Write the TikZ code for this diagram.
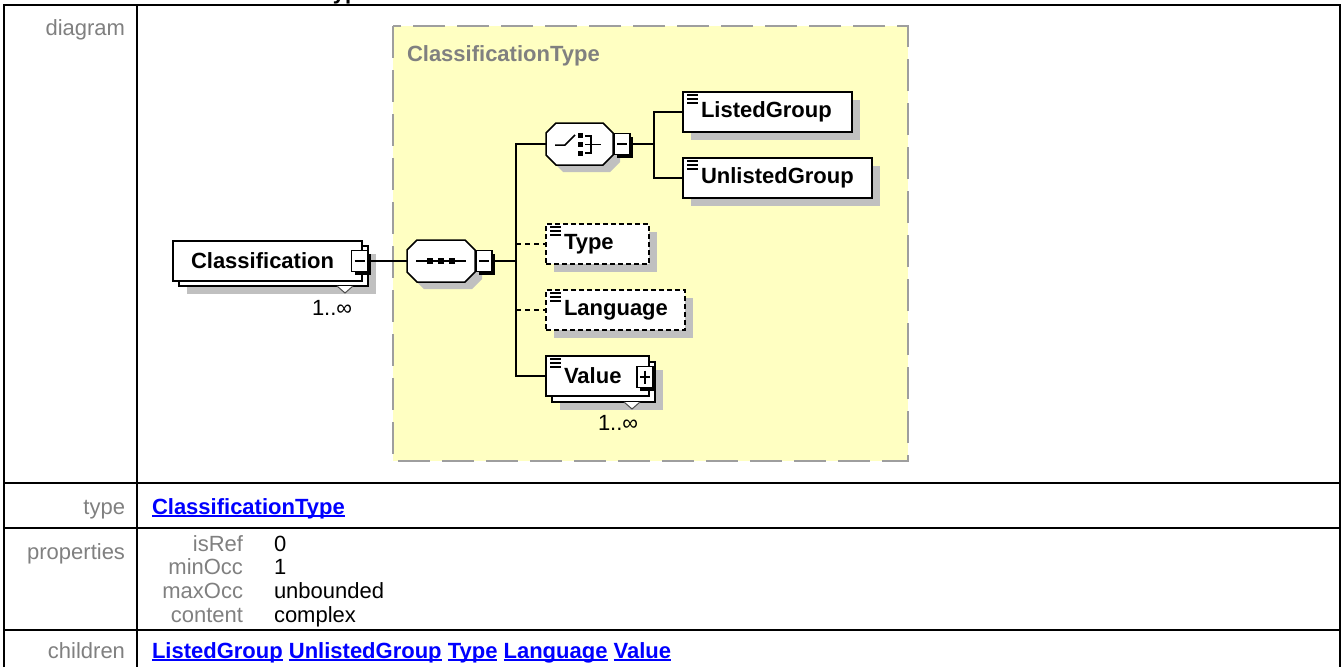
\documentclass[tikz,border=0pt]{standalone}
\usepackage{fontspec}
\setmainfont{Liberation Sans}
\usetikzlibrary{shadows}
\definecolor{ylw}{RGB}{255,255,194}
\definecolor{dgray}{RGB}{158,158,158}
\definecolor{shgray}{RGB}{192,192,192}
\definecolor{lblgray}{RGB}{128,128,128}
\definecolor{lnkblue}{RGB}{0,0,255}
\newcommand\bigtxt{\fontsize{22}{26}\selectfont}
\newcommand\lnkul[1]{\setbox0\hbox{#1}\rlap{\rule[-3pt]{\wd0}{1.6pt}}\box0\relax}
\newcommand\octpath[2]{([xshift=#2]#1.north west) -- ([xshift=-#2]#1.north east) -- ([yshift=-#2]#1.north east) -- ([yshift=#2]#1.south east) -- ([xshift=-#2]#1.south east) -- ([xshift=#2]#1.south west) -- ([yshift=#2]#1.south west) -- ([yshift=-#2]#1.north west) -- cycle}
\newcommand\elicon[1]{\foreach \dy in {3,7,11}{\draw[line width=1.2pt] ([xshift=4pt,yshift=-\dy pt]#1.north west) -- ++(11,0);}}
\begin{document}
\begin{tikzpicture}[x=1pt,y=-1pt,
  every node/.style={inner sep=0pt,outer sep=0pt},
  tbl/.style={line width=2.2pt, black},
  lbl/.style={font=\bigtxt, text=lblgray},
  val/.style={font=\bigtxt, text=black},
  lnk/.style={font=\bigtxt\bfseries, text=lnkblue},
  elbox/.style={draw=black, line width=1.5pt, fill=white, minimum height=40pt, font=\bigtxt\bfseries, inner xsep=18pt},
  shd/.style={general shadow={shadow xshift=8pt, shadow yshift=-8pt, fill=shgray}},
  expbox/.style={draw=black, line width=1.4pt, fill=white, minimum width=16pt, minimum height=21pt, general shadow={shadow xshift=3pt, shadow yshift=-3pt, fill=black}},
  conn/.style={line width=1.5pt, black},
  optconn/.style={conn, dash pattern=on 5pt off 4pt},
  octbox/.style={minimum height=42pt}
]
\useasboundingbox (0,0) rectangle (1344,667);
\fill[white] (0,0) rectangle (1344,667);

% title fragment (cut off at the top, as in the source)
\begin{scope}
\clip (0,0) rectangle (1344,667);
\node[anchor=base west, font=\bigtxt\bfseries] (ttl) at (321,-0.5) {Type};
\end{scope}

% table
\draw[tbl] (4,667) -- (4,5) -- (1340,5) -- (1340,667);
\draw[tbl] (137,5) -- (137,667);
\draw[tbl] (4,483) -- (1340,483);
\draw[tbl] (4,528) -- (1340,528);
\draw[tbl] (4,630) -- (1340,630);

\node[lbl, anchor=base east] (ldiag) at (125,35) {diagram};
\node[lbl, anchor=base east] (ltype) at (125,514) {type};
\node[lbl, anchor=base east] (lprop) at (125,559) {properties};
\node[lbl, anchor=base east] (lchild) at (125,658) {children};

\node[lnk, anchor=base west] (tlink) at (152,514) {\lnkul{ClassificationType}};
\node[lbl, anchor=base east] (pk1) at (243,551) {isRef};
\node[lbl, anchor=base east] (pk2) at (243,574) {minOcc};
\node[lbl, anchor=base east] (pk3) at (243,598) {maxOcc};
\node[lbl, anchor=base east] (pk4) at (243,622) {content};
\node[val, anchor=base west] (pv1) at (274,551) {0};
\node[val, anchor=base west] (pv2) at (274,574) {1};
\node[val, anchor=base west] (pv3) at (274,598) {unbounded};
\node[val, anchor=base west] (pv4) at (274,622) {complex};
\node[lnk, anchor=base west] (clinks) at (152,658) {\lnkul{ListedGroup} \lnkul{UnlistedGroup} \lnkul{Type} \lnkul{Language} \lnkul{Value}};

% complex type box
\draw[fill=ylw, draw=dgray, line width=2pt, dash pattern=on 32pt off 12pt] (393,26) rectangle (908,461);
\node[anchor=base west, font=\bigtxt\bfseries, text=lblgray] (ctl) at (407,61) {ClassificationType};

% Classification element (multiple)
\node[elbox, shd, minimum width=189pt] (clsb) at (273.5,266) {};
\node[elbox, minimum width=189pt] (cls) at (267.5,261) {\makebox[153pt][l]{Classification}};
\draw[line width=1pt, draw=black!70, fill=white] ([xshift=-31pt]clsb.south east) -- ([xshift=-23pt,yshift=-7pt]clsb.south east) -- ([xshift=-15pt]clsb.south east);
\node[expbox] (clsm) at (359.5,261) {};
\draw[line width=1.6pt] ([xshift=3pt]clsm.west) -- ([xshift=-3pt]clsm.east);
\node[val, anchor=base west] (clsocc) at (312,315) {1..∞};

% sequence compositor
\node[octbox, minimum width=68pt] (seq) at (441,261) {};
\fill[shgray, transform canvas={xshift=7pt,yshift=-7pt}] \octpath{seq}{10pt};
\draw[line width=1.5pt, fill=white] \octpath{seq}{10pt};
\draw[line width=1.6pt] ([xshift=9pt]seq.west) -- ([xshift=-9pt]seq.east);
\fill (427,258) rectangle (433,264);
\fill (438,258) rectangle (444,264);
\fill (449,258) rectangle (455,264);
\node[expbox] (seqm) at (484,261) {};
\draw[line width=1.6pt] ([xshift=3pt]seqm.west) -- ([xshift=-3pt]seqm.east);

% choice compositor
\node[octbox, minimum width=67pt] (choice) at (579.5,144) {};
\fill[shgray, transform canvas={xshift=7pt,yshift=-7pt}] \octpath{choice}{10pt};
\draw[line width=1.5pt, fill=white] \octpath{choice}{10pt};
\draw[line width=1.5pt] (555,145) -- (565,145) -- (575,135);
\fill (577.5,132.5) rectangle (583,138);
\fill (577.5,141.5) rectangle (583,147);
\fill (577.5,150.5) rectangle (583,156);
\draw[line width=1.5pt] (585,136) -- (591,136) -- (591,153) -- (585,153);
\draw[line width=1.5pt] (585,144.5) -- (601,144.5);
\node[expbox] (choicem) at (622,144) {};
\draw[line width=1.6pt] ([xshift=3pt]choicem.west) -- ([xshift=-3pt]choicem.east);

% child elements
\node[elbox, shd, minimum width=169pt] (listed) at (767.5,112) {\makebox[133pt][l]{ListedGroup}};
\elicon{listed}
\node[elbox, shd, minimum width=189pt] (unlisted) at (777.5,178) {\makebox[153pt][l]{UnlistedGroup}};
\elicon{unlisted}
\node[elbox, shd, dash pattern=on 5pt off 3pt, minimum width=103pt] (type) at (597.5,244) {\makebox[67pt][l]{Type}};
\elicon{type}
\node[elbox, shd, dash pattern=on 5pt off 3pt, minimum width=139pt] (lang) at (615.5,310) {\makebox[103pt][l]{Language}};
\elicon{lang}
\node[elbox, shd, minimum width=103pt] (valb) at (603.5,382) {};
\node[elbox, minimum width=103pt] (value) at (597.5,376) {\makebox[67pt][l]{Value}};
\elicon{value}
\draw[line width=1pt, draw=black!70, fill=white] ([xshift=-31pt]valb.south east) -- ([xshift=-23pt,yshift=-7pt]valb.south east) -- ([xshift=-15pt]valb.south east);
\node[expbox] (valp) at (645,377) {};
\draw[line width=1.6pt] ([xshift=3pt]valp.west) -- ([xshift=-3pt]valp.east);
\draw[line width=1.6pt] ([yshift=-4pt]valp.north) -- ([yshift=4pt]valp.south);
\node[val, anchor=base west] (valocc) at (598,430) {1..∞};

% connectors
\coordinate (t0) at (516,261);
\coordinate (b0) at (654,144);
\draw[conn] (clsm.east) -- (seq.west);
\draw[conn] (seqm.east) -- (t0);
\draw[conn] (choice.west) -| (t0) |- (value.west);
\draw[optconn] (t0 |- type.west) -- (type.west);
\draw[optconn] (t0 |- lang.west) -- (lang.west);
\draw[conn] (choicem.east) -- (b0);
\draw[conn] (listed.west) -| (b0) |- (unlisted.west);
\end{tikzpicture}
\end{document}
